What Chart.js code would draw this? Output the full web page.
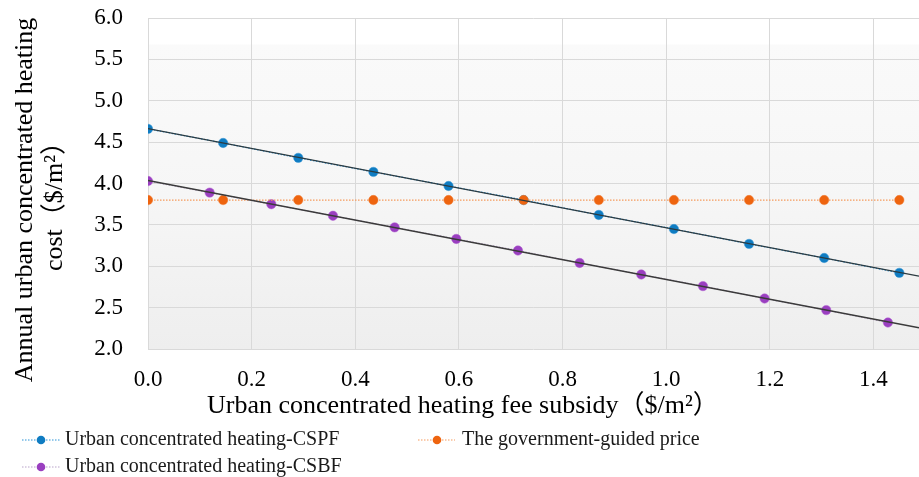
<!DOCTYPE html>
<html>
<head>
<meta charset="utf-8">
<script src="https://cdn.jsdelivr.net/npm/chart.js@4.4.1/dist/chart.umd.min.js"></script>
<style>
  html, body { margin: 0; padding: 0; background: #ffffff; }
  #wrap { position: relative; width: 919px; height: 477px; overflow: hidden; }
  #c { position: absolute; left: 0; top: 0; }
  .lg { position: absolute; font-family: "Liberation Serif", "Times New Roman", serif; font-size: 20px; color: #1a1a1a; white-space: nowrap; line-height: 20px; }
  .lg svg { position: absolute; left: 0; top: 0; }
  .lg span { position: absolute; top: -2px; }
</style>
</head>
<body>
<div id="wrap">
  <canvas id="c" width="919" height="477"></canvas>
  <div class="lg" style="left:20px; top:430px; width:340px; height:20px;">
    <svg width="44" height="20"><line x1="2" y1="10" x2="40" y2="10" stroke="#2a93d8" stroke-width="1.2" stroke-dasharray="1.5,1.5"/><circle cx="21" cy="10" r="4.3" fill="#0f7cc2"/></svg>
    <span style="left:45px;">Urban concentrated heating-CSPF</span>
  </div>
  <div class="lg" style="left:416px; top:430px; width:320px; height:20px;">
    <svg width="44" height="20"><line x1="2" y1="10" x2="39" y2="10" stroke="#f59a5c" stroke-width="1.2" stroke-dasharray="1.5,1.5"/><circle cx="21" cy="10" r="4.3" fill="#ee640f"/></svg>
    <span style="left:46px;">The government-guided price</span>
  </div>
  <div class="lg" style="left:20px; top:457px; width:340px; height:20px;">
    <svg width="44" height="20"><line x1="2" y1="10" x2="40" y2="10" stroke="#b9a3c9" stroke-width="1.2" stroke-dasharray="1.5,1.5"/><circle cx="21" cy="10" r="4.3" fill="#9a3fc0"/></svg>
    <span style="left:45px;">Urban concentrated heating-CSBF</span>
  </div>
</div>
<script>
// ---- data ----
const subsidyCSPF = [0, 0.145, 0.29, 0.435, 0.58, 0.725, 0.87, 1.015, 1.16, 1.305, 1.45];
const costCSPF    = [4.66, 4.49, 4.31, 4.14, 3.97, 3.80, 3.62, 3.45, 3.27, 3.10, 2.92];
const subsidyGov  = [0, 0.145, 0.29, 0.435, 0.58, 0.725, 0.87, 1.015, 1.16, 1.305, 1.45];
const govPrice    = [3.80, 3.80, 3.80, 3.80, 3.80, 3.80, 3.80, 3.80, 3.80, 3.80, 3.80];
const subsidyCSBF = [0, 0.119, 0.238, 0.357, 0.476, 0.595, 0.714, 0.833, 0.952, 1.071, 1.19, 1.309, 1.428];
const costCSBF    = [4.03, 3.89, 3.75, 3.61, 3.47, 3.33, 3.19, 3.04, 2.90, 2.76, 2.61, 2.47, 2.32];
const xTickValues = [0.0, 0.2, 0.4, 0.6, 0.8, 1.0, 1.2, 1.4];
const yTickValues = [2.0, 2.5, 3.0, 3.5, 4.0, 4.5, 5.0, 5.5, 6.0];
const xMin = 0, xMax = 1.488, yMin = 2, yMax = 6;
const xTitle = "Urban concentrated heating fee subsidy（$/m²）";
const yTitleLines = ["Annual urban concentrated heating", "cost（$/m²）"];

function pts(xs, ys) { return xs.map((x, i) => ({ x: x, y: ys[i] })); }
// linear trend lines (least squares) from the series, spanning the axis
function trend(xs, ys) {
  const n = xs.length;
  const mx = xs.reduce((a, b) => a + b, 0) / n;
  const my = ys.reduce((a, b) => a + b, 0) / n;
  let sxy = 0, sxx = 0;
  for (let i = 0; i < n; i++) { sxy += (xs[i] - mx) * (ys[i] - my); sxx += (xs[i] - mx) * (xs[i] - mx); }
  const b = sxy / sxx, a = my - b * mx;
  return [{ x: xMin, y: a + b * xMin }, { x: xMax, y: a + b * xMax }];
}

const SERIF = '"Liberation Serif", "Times New Roman", "Noto Sans CJK SC", serif';

const bgPlugin = {
  id: 'bg',
  beforeDraw(chart) {
    const { ctx, chartArea: a, scales } = chart;
    ctx.save();
    ctx.fillStyle = '#ffffff';
    ctx.fillRect(a.left, a.top, a.right - a.left, a.bottom - a.top);
    const yStart = scales.y.getPixelForValue(5.68);
    const g = ctx.createLinearGradient(0, yStart, 0, a.bottom);
    g.addColorStop(0, '#fafafa');
    g.addColorStop(0.5, '#f6f6f6');
    g.addColorStop(1, '#eeeeee');
    ctx.fillStyle = g;
    ctx.fillRect(a.left, yStart, a.right - a.left, a.bottom - yStart);
    ctx.restore();
  }
};

const titlePlugin = {
  id: 'axisTitles',
  afterDraw(chart) {
    const ctx = chart.ctx;
    ctx.save();
    ctx.fillStyle = '#000000';
    ctx.font = '26px ' + SERIF;
    ctx.textBaseline = 'alphabetic';
    ctx.textAlign = 'left';
    ctx.fillText(xTitle, 207, 413);
    ctx.textAlign = 'center';
    const bases = [32, 62];
    yTitleLines.forEach((t, i) => {
      ctx.save();
      ctx.translate(bases[i], 200);
      ctx.rotate(-Math.PI / 2);
      ctx.fillText(t, 0, 0);
      ctx.restore();
    });
    ctx.restore();
  }
};

const trendCSPF = trend(subsidyCSPF, costCSPF);
const trendCSBF = trend(subsidyCSBF, costCSBF);

new Chart(document.getElementById('c'), {
  type: 'scatter',
  data: {
    datasets: [
      { label: 'trend CSPF', data: trendCSPF, showLine: true, borderColor: '#2b3a40', borderWidth: 1.3, pointRadius: 0, fill: false },
      { label: 'trend CSBF', data: trendCSBF, showLine: true, borderColor: '#3a3a3a', borderWidth: 1.3, pointRadius: 0, fill: false },
      { label: 'The government-guided price', data: pts(subsidyGov, govPrice), showLine: true,
        borderColor: '#f59a5c', borderWidth: 1.3, borderDash: [1.5, 1.5],
        pointRadius: 4.7, pointBackgroundColor: '#ee640f', pointBorderColor: '#f07a30', pointBorderWidth: 0.5 },
      { label: 'Urban concentrated heating-CSPF', data: pts(subsidyCSPF, costCSPF), showLine: true,
        borderColor: '#2a93d8', borderWidth: 1.2, borderDash: [1.5, 1.5],
        pointRadius: 4.7, pointBackgroundColor: '#0f7cc2', pointBorderColor: '#3a98d6', pointBorderWidth: 0.5 },
      { label: 'Urban concentrated heating-CSBF', data: pts(subsidyCSBF, costCSBF), showLine: true,
        borderColor: '#b9a3c9', borderWidth: 1.2, borderDash: [1.5, 1.5],
        pointRadius: 4.7, pointBackgroundColor: '#9a3fc0', pointBorderColor: '#b060d0', pointBorderWidth: 0.5 }
    ]
  },
  options: {
    responsive: false,
    animation: false,
    devicePixelRatio: 1,
    layout: { autoPadding: false, padding: { left: 0, right: 0, top: 18, bottom: 0 } },
    plugins: { legend: { display: false }, tooltip: { enabled: false } },
    scales: {
      x: {
        type: 'linear', min: xMin, max: xMax,
        afterBuildTicks(s) { s.ticks = xTickValues.map(v => ({ value: v })); },
        afterFit(s) { s.height = 477 - 349; s.paddingLeft = 0; s.paddingRight = 0; },
        grid: { color: '#d9d9d9', lineWidth: 1, drawTicks: false },
        border: { display: false },
        ticks: { padding: 17, color: '#000000', font: { family: SERIF, size: 23 }, callback: v => Number(v).toFixed(1), maxRotation: 0, autoSkip: false }
      },
      y: {
        type: 'linear', min: yMin, max: yMax,
        afterBuildTicks(s) { s.ticks = yTickValues.map(v => ({ value: v })); },
        afterFit(s) { s.width = 148; s.paddingTop = 0; s.paddingBottom = 0; },
        grid: { color: '#d9d9d9', lineWidth: 1, drawTicks: false },
        border: { display: false },
        ticks: { padding: 25, color: '#000000', font: { family: SERIF, size: 23 }, callback: v => Number(v).toFixed(1) }
      }
    }
  },
  plugins: [bgPlugin, titlePlugin]
});
</script>
</body>
</html>
